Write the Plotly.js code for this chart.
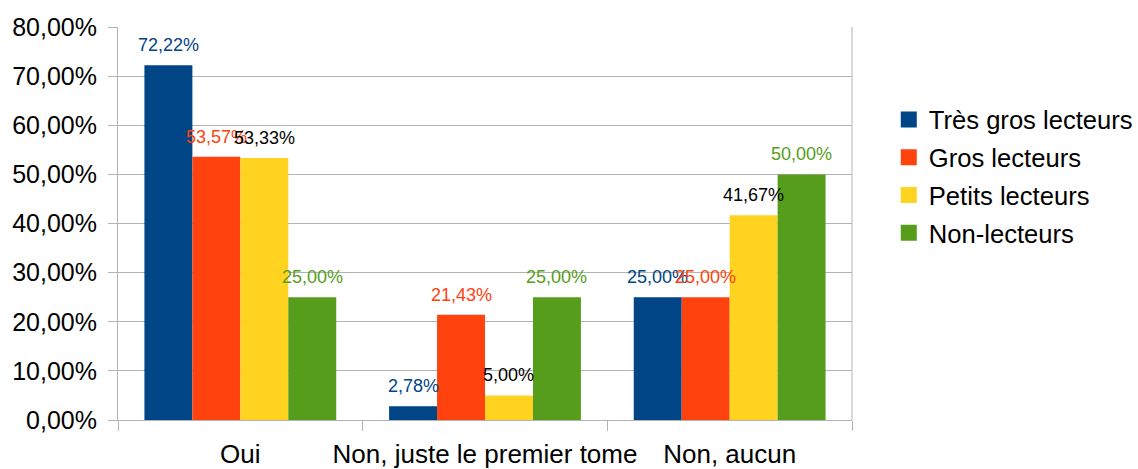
<!DOCTYPE html>
<html><head><meta charset="utf-8">
<script src="https://cdn.plot.ly/plotly-3.0.1.min.js"></script>
<style>body{margin:0;background:#fff}#c{width:1138px;height:469px}</style>
</head><body><div id="c"></div>
<script>
const categories = ["Oui", "Non, juste le premier tome", "Non, aucun"];
const seriesNames = ["Très gros lecteurs", "Gros lecteurs", "Petits lecteurs", "Non-lecteurs"];
const tresGros = [0.7222, 0.0278, 0.25];
const gros = [0.5357, 0.2143, 0.25];
const petits = [0.5333, 0.05, 0.4167];
const nonLecteurs = [0.25, 0.25, 0.50];
const colors = ["#004586", "#ff420e", "#ffd320", "#579d1c"];
const labelColors = ["#004586", "#ff420e", "#000000", "#579d1c"];
const values = [tresGros, gros, petits, nonLecteurs];

const FONT = "Liberation Sans, Arial, sans-serif";
const bargap = 0.216;
const n = values.length;
const bw = (1 - bargap) / n;

const traces = values.map((v, i) => ({
  type: "bar", x: categories, y: v, name: seriesNames[i],
  marker: {color: colors[i]}, showlegend: false, hoverinfo: "skip"
}));
// legend entries with larger square swatches
values.forEach((v, i) => traces.push({
  type: "scatter", mode: "markers", x: [null], y: [null], name: seriesNames[i],
  marker: {color: colors[i], symbol: "square", size: 16}, legendgroup: "g" + i
}));

const fmt = v => (v * 100).toFixed(2).replace(".", ",") + "%";
const annotations = [];
values.forEach((v, i) => v.forEach((val, j) => annotations.push({
  x: j + (i - (n - 1) / 2) * bw, y: val, xref: "x", yref: "y",
  text: fmt(val), showarrow: false, yanchor: "bottom", xanchor: "center", yshift: 8,
  font: {family: FONT, size: 18, color: labelColors[i]}
})));

Plotly.newPlot("c", traces, {
  width: 1138, height: 469,
  margin: {l: 118, r: 286, t: 27, b: 49},
  separators: ",.",
  barmode: "group", bargap: bargap, bargroupgap: 0,
  font: {family: FONT, size: 25, color: "#000"},
  paper_bgcolor: "#fff", plot_bgcolor: "#fff",
  xaxis: {
    type: "category",
    showline: true, linecolor: "#b3b3b3", linewidth: 1,
    ticks: "outside", tickson: "boundaries", ticklen: 10, tickcolor: "#b3b3b3",
    showgrid: false, tickfont: {size: 26}, tickangle: 0, automargin: false, ticklabelstandoff: 11
  },
  yaxis: {
    range: [0, 0.8], dtick: 0.1, tickformat: ".2%",
    showgrid: true, gridcolor: "#b3b3b3", gridwidth: 1,
    showline: true, linecolor: "#b3b3b3",
    ticks: "outside", ticklen: 9, tickcolor: "#b3b3b3", ticklabelstandoff: 6,
    zeroline: false, tickfont: {size: 25}, automargin: false
  },
  annotations: annotations,
  shapes: [{type: "line", xref: "paper", yref: "paper", x0: 1, x1: 1, y0: 0, y1: 1, line: {color: "#b3b3b3", width: 1}}],
  legend: {xref: "container", yref: "container", x: 0.781, xanchor: "left", y: 0.624, yanchor: "middle",
           font: {size: 25.6}, tracegroupgap: 1.5, bgcolor: "rgba(0,0,0,0)"},
  showlegend: true
}, {staticPlot: true});
</script></body></html>
